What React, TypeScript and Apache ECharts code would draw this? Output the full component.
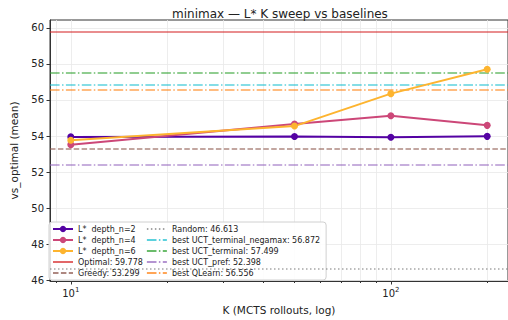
import React, { useEffect, useRef } from 'react';
import * as echarts from 'echarts';

const K = [10, 50, 100, 200];
const lstarNames = ['L*  depth_n=2', 'L*  depth_n=4', 'L*  depth_n=6'];
const depth2 = [53.95, 53.97, 53.93, 53.98];
const depth4 = [53.52, 54.66, 55.12, 54.59];
const depth6 = [53.76, 54.55, 56.35, 57.7];
const lstarColors = ['#5402a3', '#cc4778', '#fdb42f'];

const baseNames = ['Optimal', 'Greedy', 'Random', 'best UCT_terminal_negamax', 'best UCT_terminal', 'best UCT_pref', 'best QLearn'];
const baseValues = [59.778, 53.299, 46.613, 56.872, 57.499, 52.398, 56.556];
const baseColors = ['#d62728', '#8c564b', '#7f7f7f', '#17becf', '#2ca02c', '#9467bd', '#ff7f0e'];
const baseStyles = ['solid', 'dashed', 'dotted', 'dashdot', 'dashdot', 'dashdot', 'dashdot'];

const yTicks = [46, 48, 50, 52, 54, 56, 58, 60];
const xMajor = [10, 100];
const xMinor = [9, 20, 30, 40, 50, 60, 70, 80, 90, 200];

const dashFor = (s: string): any => {
  if (s === 'dashed') return [5.5, 2.4];
  if (s === 'dotted') return [1.5, 2.5];
  if (s === 'dashdot') return [9.6, 2.4, 1.5, 2.4];
  return 'solid';
};

const FONT = 'DejaVu Sans';

export default function App() {
  const ref = useRef<HTMLDivElement>(null);
  useEffect(() => {
    if (!ref.current) return;
    const chart = echarts.init(ref.current, undefined, { renderer: 'svg' });
    const lx = (k: number) => Math.log10(k);
    const xMin = 0.935;
    const xMax = 2.366;
    const lstarData = [depth2, depth4, depth6];
    const series: any[] = [];
    lstarData.forEach((arr, i) => {
      series.push({
        name: lstarNames[i],
        type: 'line',
        xAxisIndex: 0,
        data: K.map((k, j) => [lx(k), arr[j]]),
        symbol: 'circle',
        symbolSize: 7,
        itemStyle: { color: lstarColors[i] },
        lineStyle: { color: lstarColors[i], width: 2 },
        z: 5,
      });
    });
    baseNames.forEach((n, i) => {
      const ls = { color: baseColors[i], width: 1.5, type: dashFor(baseStyles[i]), opacity: 0.7 };
      series.push({
        name: `${n}: ${baseValues[i].toFixed(3)}`,
        type: 'line',
        xAxisIndex: 0,
        data: [],
        symbol: 'none',
        itemStyle: { color: 'rgba(0,0,0,0)', borderWidth: 0 },
        lineStyle: ls,
        markLine: {
          silent: true,
          symbol: ['none', 'none'],
          label: { show: false },
          lineStyle: ls,
          data: [{ yAxis: baseValues[i] }],
        },
        z: 3,
      });
    });
    const legendData = [
      ...lstarNames,
      ...baseNames.map((n, i) => `${n}: ${baseValues[i].toFixed(3)}`),
    ];
    chart.setOption({
      animation: false,
      textStyle: { fontFamily: FONT },
      title: {
        text: 'minimax — L* K sweep vs baselines',
        left: 167,
        top: 3,
        textStyle: { fontSize: 12, fontWeight: 'normal', color: '#222', fontFamily: FONT },
      },
      grid: {
        left: 47,
        right: -1,
        top: 20,
        bottom: 37,
        show: true,
        borderColor: '#333',
        borderWidth: 1,
        backgroundColor: 'transparent',
      },
      legend: {
        data: legendData,
        orient: 'vertical',
        left: 49,
        top: 222,
        height: 52,
        itemWidth: 20,
        itemHeight: 8,
        itemGap: 3,
        padding: [3, 6, 3, 3],
        backgroundColor: 'rgba(255,255,255,0.85)',
        borderColor: '#d0d0d0',
        borderWidth: 1,
        borderRadius: 3,
        textStyle: { fontSize: 8, color: '#222', fontFamily: FONT },
      },
      xAxis: [
        {
          type: 'value',
          min: xMin,
          max: xMax,
          position: 'bottom',
          name: 'K (MCTS rollouts, log)',
          nameLocation: 'middle',
          nameGap: 23,
          nameTextStyle: { fontSize: 10.5, color: '#222', fontFamily: FONT },
          axisLine: { show: true, lineStyle: { color: '#333' } },
          axisTick: { show: true, length: 3.5, customValues: xMajor.map(lx), lineStyle: { color: '#333' } },
          axisLabel: {
            show: true,
            customValues: xMajor.map(lx),
            margin: 5,
            formatter: (v: number) => `{b|10}{s|${Math.round(v)}}`,
            rich: {
              b: { fontSize: 10, color: '#222', fontFamily: FONT },
              s: { fontSize: 7, color: '#222', fontFamily: FONT, padding: [0, 0, 7, 0] },
            },
          },
          splitLine: { show: true, lineStyle: { color: '#e8e8e8', width: 0.8 } },
        },
        {
          type: 'value',
          min: xMin,
          max: xMax,
          position: 'bottom',
          axisLine: { show: false },
          axisTick: { show: true, length: 2, customValues: xMinor.map(lx), lineStyle: { color: '#333' } },
          axisLabel: { show: false, customValues: xMinor.map(lx) },
          splitLine: { show: true, lineStyle: { color: '#e8e8e8', width: 0.8 } },
        },
      ],
      yAxis: {
        type: 'value',
        min: 45.955,
        max: 60.436,
        name: 'vs_optimal (mean)',
        nameLocation: 'middle',
        nameGap: 31,
        nameTextStyle: { fontSize: 10.5, color: '#222', fontFamily: FONT },
        axisLine: { show: true, lineStyle: { color: '#333' } },
        axisTick: { show: true, length: 3.5, customValues: yTicks, lineStyle: { color: '#333' } },
        axisLabel: { customValues: yTicks, fontSize: 10, color: '#222', margin: 6, fontFamily: FONT },
        splitLine: { show: true, lineStyle: { color: '#e8e8e8', width: 0.8 } },
      },
      series,
    });
    return () => chart.dispose();
  }, []);
  return <div ref={ref} style={{ position: 'absolute', left: 0, top: 0, width: 508, height: 320 }} />;
}
